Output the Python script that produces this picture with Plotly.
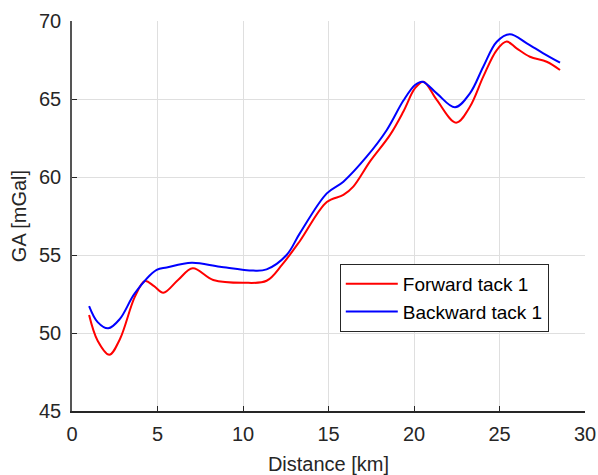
import plotly.graph_objects as go

# Forward tack 1 (red)
fwd_x = [1.0, 1.5, 2.18, 2.8, 3.68, 4.27, 4.8, 5.34, 6.2, 7.06, 8.26, 10.02, 11.38, 12.3, 13.33,
         14.9, 15.87, 16.45, 17.43, 18.6, 19.38, 20.06, 20.55, 21.33, 22.46, 23.27, 24.05, 24.84,
         25.42, 26.0, 26.78, 27.76, 28.54]
fwd_y = [51.15, 49.5, 48.6, 49.6, 52.33, 53.33, 53.0, 52.58, 53.4, 54.15, 53.4, 53.22, 53.35, 54.4, 55.9,
         58.4, 58.85, 59.38, 61.0, 62.7, 64.2, 65.69, 66.11, 64.94, 63.48, 64.5, 66.43, 68.14,
         68.68, 68.25, 67.71, 67.39, 66.86]

# Backward tack 1 (blue)
bwd_x = [1.0, 1.5, 2.12, 2.8, 3.68, 4.95, 5.54, 7.0, 8.65, 10.6, 11.38, 12.55, 13.33,
         14.9, 15.87, 17.23, 18.4, 19.38, 20.06, 20.5, 21.33, 22.4, 23.27, 24.05, 24.84,
         25.6, 26.6, 27.56, 28.54]
bwd_y = [51.73, 50.7, 50.3, 50.9, 52.55, 54.04, 54.2, 54.5, 54.25, 54.0, 54.08, 55.0, 56.4,
         58.95, 59.7, 61.3, 63.0, 64.9, 65.9, 66.11, 65.36, 64.47, 65.36, 67.07, 68.67,
         69.15, 68.57, 67.93, 67.33]

x_ticks = [0, 5, 10, 15, 20, 25, 30]
y_ticks = [45, 50, 55, 60, 65, 70]

fig = go.Figure()
fig.add_trace(go.Scatter(x=fwd_x, y=fwd_y, mode="lines", name="Forward tack 1",
                         line=dict(color="#ff0000", width=2, shape="spline", smoothing=1.0)))
fig.add_trace(go.Scatter(x=bwd_x, y=bwd_y, mode="lines", name="Backward tack 1",
                         line=dict(color="#0000ff", width=2, shape="spline", smoothing=1.0)))

axis_col = "#262626"
grid_col = "#dfdfdf"
fig.update_layout(
    width=598, height=475,
    margin=dict(l=72, r=13, t=21, b=64, autoexpand=False),
    paper_bgcolor="white", plot_bgcolor="white",
    font=dict(family="Liberation Sans, Arial, sans-serif", size=20, color=axis_col),
    showlegend=True,
    legend=dict(x=0.522, y=0.377, xanchor="left", yanchor="top",
                bordercolor="#262626", borderwidth=1, bgcolor="white",
                font=dict(size=19, color="#000000"),
                tracegroupgap=0, itemwidth=52),
    xaxis=dict(range=[0, 30], tickvals=x_ticks, ticks="inside", ticklen=5, tickcolor=axis_col,
               showline=True, linecolor=axis_col, linewidth=1.5, showgrid=True, gridcolor=grid_col,
               zeroline=False, mirror=False, ticklabelstandoff=4, automargin=False,
               tickfont=dict(size=20),
               title=dict(text="Distance [km]", standoff=20, font=dict(size=20))),
    yaxis=dict(range=[45, 70], tickvals=y_ticks, ticks="inside", ticklen=5, tickcolor=axis_col,
               showline=True, linecolor="#555555", linewidth=1.5, showgrid=True, gridcolor=grid_col,
               zeroline=False, mirror=False, ticklabelstandoff=5, automargin=False,
               tickfont=dict(size=20),
               title=dict(text="GA [mGal]", standoff=7, font=dict(size=20))),
)
fig.write_html("out.html", config={"displayModeBar": False},
               post_script="document.body.style.margin='0';document.body.style.overflow='hidden';")
